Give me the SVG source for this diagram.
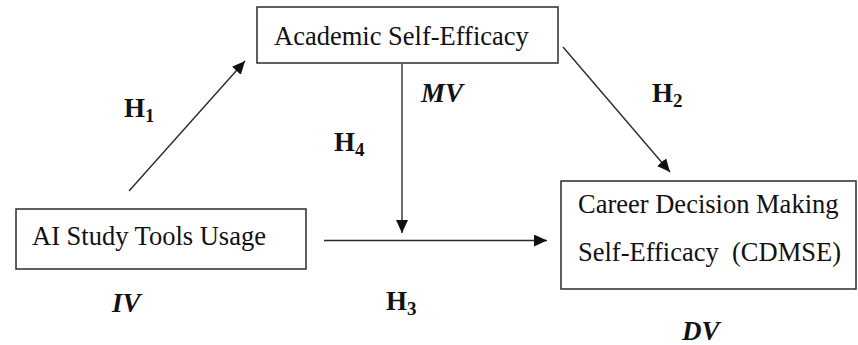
<svg xmlns="http://www.w3.org/2000/svg" width="858" height="345" viewBox="0 0 858 345">
  <style>
    .box { fill: #ffffff; stroke: #2b2b2b; stroke-width: 1.5; }
    .lbl { font-family: "Liberation Serif", "Times New Roman", serif; font-size: 26.5px; fill: #111; }
    .hyp { font-family: "Liberation Serif", "Times New Roman", serif; font-size: 27px; font-weight: bold; fill: #111; }
    .sub { font-size: 19px; }
    .var { font-family: "Liberation Serif", "Times New Roman", serif; font-size: 27px; font-weight: bold; font-style: italic; fill: #111; }
    .conn { stroke: #2b2b2b; stroke-width: 1.4; fill: none; marker-end: url(#arrow); }
  </style>
  <defs>
    <marker id="arrow" markerUnits="userSpaceOnUse" markerWidth="14" markerHeight="12" refX="13" refY="6" orient="auto">
      <path d="M0,0 L13,6 L0,12 z" fill="#111"/>
    </marker>
  </defs>
  <rect width="858" height="345" fill="#ffffff"/>

  <g id="connectors">
    <line class="conn" x1="129" y1="191" x2="245" y2="61"/>
    <line class="conn" x1="563" y1="47" x2="670" y2="172"/>
    <line class="conn" x1="402" y1="64" x2="402" y2="233"/>
    <line class="conn" x1="324" y1="240.5" x2="547" y2="240.5"/>
  </g>

  <g id="node-ase">
    <rect class="box" x="257" y="7" width="301" height="56"/>
    <text class="lbl" x="274" y="45">Academic Self-Efficacy</text>
  </g>

  <g id="node-ai">
    <rect class="box" x="16" y="209" width="290" height="60"/>
    <text class="lbl" x="32" y="245">AI Study Tools Usage</text>
  </g>

  <g id="node-cdmse">
    <rect class="box" x="561" y="181" width="295" height="108"/>
    <text class="lbl" x="578" y="213">Career Decision Making</text>
    <text class="lbl" x="578" y="261" xml:space="preserve">Self-Efficacy  (CDMSE)</text>
  </g>

  <g id="labels">
    <text class="hyp" x="124" y="117">H<tspan class="sub" dy="5">1</tspan></text>
    <text class="hyp" x="652" y="102">H<tspan class="sub" dy="5">2</tspan></text>
    <text class="hyp" x="386" y="310">H<tspan class="sub" dy="5">3</tspan></text>
    <text class="hyp" x="334" y="151">H<tspan class="sub" dy="5">4</tspan></text>
    <text class="var" x="112" y="312">IV</text>
    <text class="var" x="421" y="102">MV</text>
    <text class="var" x="682" y="340">DV</text>
  </g>
</svg>
